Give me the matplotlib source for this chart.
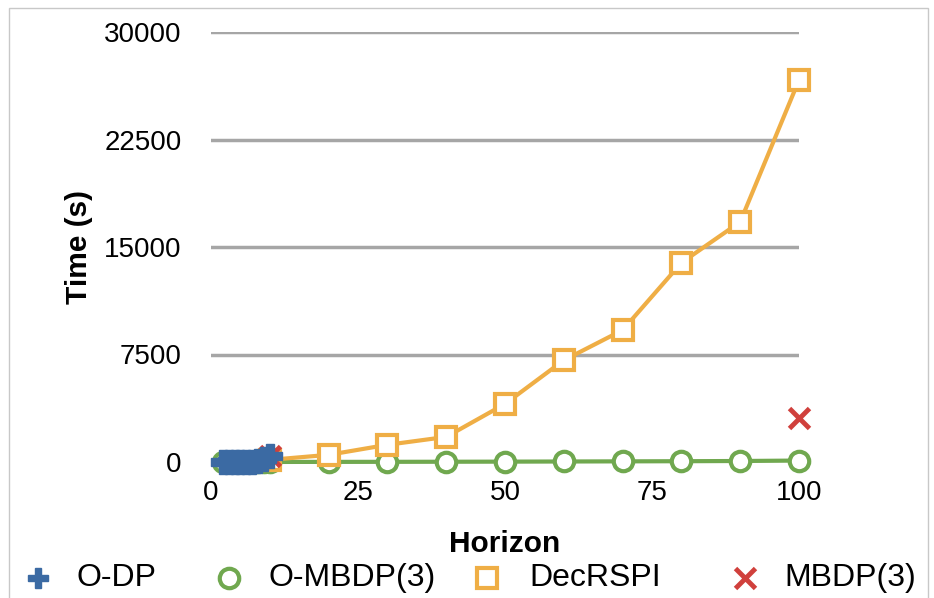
import matplotlib.pyplot as plt
from matplotlib.lines import Line2D
from matplotlib.patches import Rectangle

plt.rcParams['font.family'] = ['Liberation Sans', 'DejaVu Sans']

# data
odp_x = [2, 3, 4, 5, 6, 7, 8, 9, 10]
odp_y = [0, 1, 2, 5, 10, 30, 80, 200, 450]

ombdp_x = [2, 3, 4, 5, 6, 7, 8, 9, 10, 20, 30, 40, 50, 60, 70, 80, 90, 100]
ombdp_y = [0, 0, 0, 0, 1, 1, 2, 2, 3, 8, 12, 18, 25, 35, 45, 55, 70, 100]

decrspi_x = [10, 20, 30, 40, 50, 60, 70, 80, 90, 100]
decrspi_y = [150, 500, 1200, 1750, 4050, 7100, 9200, 13900, 16750, 26650]

mbdp_x = [10, 100]
mbdp_y = [420, 3070]

labels = ['O-DP', 'O-MBDP(3)', 'DecRSPI', 'MBDP(3)']

c_blue = '#3B6AA3'
c_green = '#70A84F'
c_orange = '#EFAE45'
c_red = '#D0403C'

fig = plt.figure(figsize=(9.34, 5.98), dpi=100)
ax = fig.add_axes([211 / 934, 136 / 598, 588 / 934, 430 / 598])

ax.plot(ombdp_x, ombdp_y, color=c_green, lw=3, marker='o', ms=14,
        mfc='white', mec=c_green, mew=3, clip_on=False, zorder=3)
ax.plot(decrspi_x, decrspi_y, color=c_orange, lw=3, marker='s', ms=15,
        mfc='white', mec=c_orange, mew=3, clip_on=False, zorder=4)
ax.plot(mbdp_x, mbdp_y, ls='none', marker='x', ms=15, mec=c_red, mew=3.5,
        clip_on=False, zorder=5)
ax.plot(odp_x, odp_y, color=c_blue, lw=7, marker='P', ms=17,
        mfc=c_blue, mec=c_blue, clip_on=False, zorder=6)

ax.set_xlim(0, 100)
ax.set_ylim(0, 30000)
ax.set_xticks([0, 25, 50, 75, 100])
ax.set_yticks([0, 7500, 15000, 22500, 30000])
ax.grid(axis='y', color='#A6A6A6', lw=2.5)
ax.set_axisbelow(True)
for s in ax.spines.values():
    s.set_visible(False)
ax.tick_params(length=0, labelsize=20)
ax.tick_params(axis='y', pad=21)
ax.tick_params(axis='x', pad=13)
ax.set_xlabel('Horizon', fontsize=21.5, fontweight='bold', labelpad=17)
ax.set_ylabel('Time (s)', fontsize=21.5, fontweight='bold', labelpad=8)

# legend drawn by hand along the bottom
leg_y = 1 - 578 / 598
handles = [
    dict(marker='P', ms=14, mfc=c_blue, mec=c_blue),
    dict(marker='o', ms=14, mfc='white', mec=c_green, mew=3),
    dict(marker='s', ms=14, mfc='white', mec=c_orange, mew=3),
    dict(marker='x', ms=14, mec=c_red, mew=3.5),
]
mark_x = [38, 229, 487, 745]
text_x = [76, 269, 529, 784]
for h, mx, tx, lab in zip(handles, mark_x, text_x, labels):
    fig.add_artist(Line2D([mx / 934], [leg_y], ls='none',
                          transform=fig.transFigure, **h))
    fig.text(tx / 934, leg_y, lab, fontsize=23, ha='left', va='center')

fig.patches.append(Rectangle((9 / 934, -0.1), 919 / 934, 1.1 - 8 / 598,
                             transform=fig.transFigure, fill=False,
                             ec='#C8C8C8', lw=1))

fig.savefig('out.png', dpi=100)
